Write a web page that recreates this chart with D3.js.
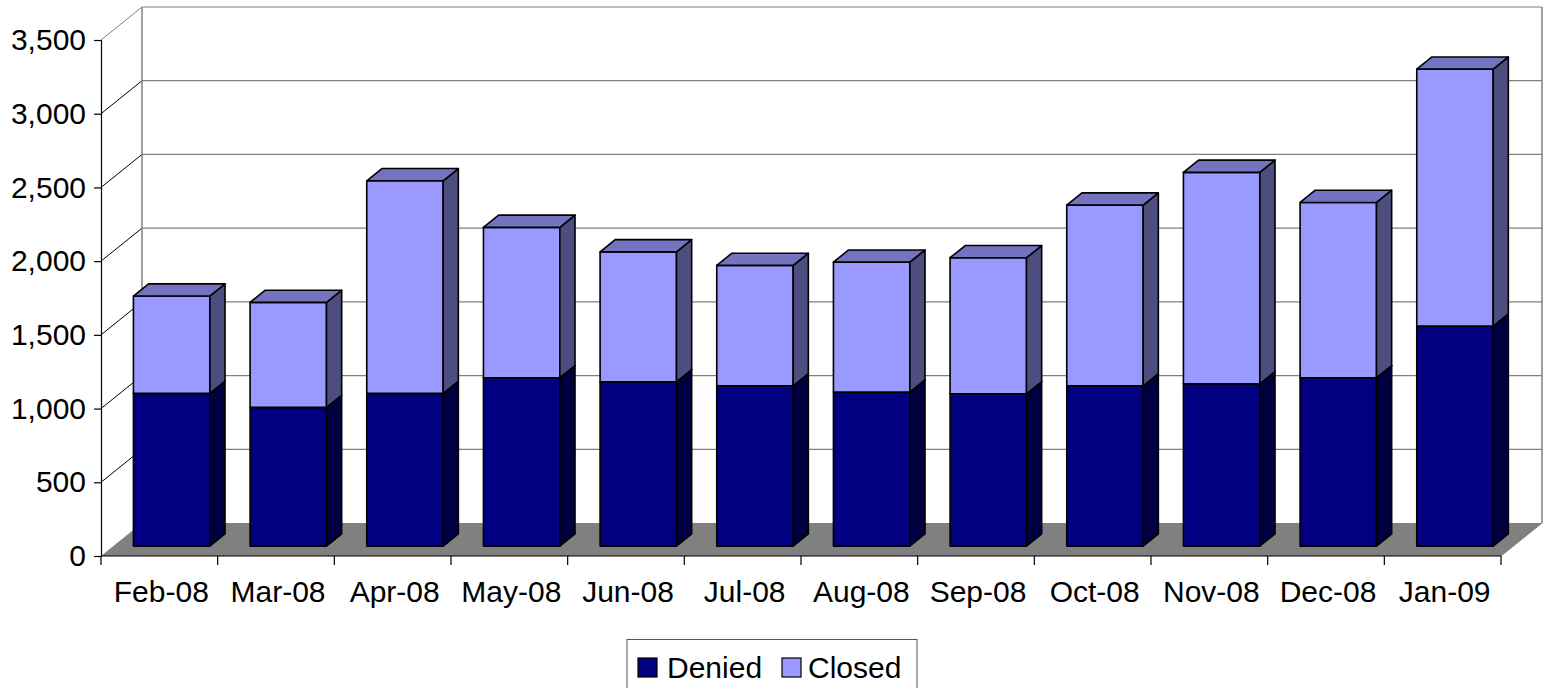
<!DOCTYPE html>
<html>
<head>
<meta charset="utf-8">
<script src="https://cdn.jsdelivr.net/npm/d3@7"></script>
<style>
  html, body { margin: 0; padding: 0; background: #fff; }
  svg { display: block; }
  text { font-family: "Liberation Sans", Arial, sans-serif; fill: #000; }
</style>
</head>
<body>
<svg id="chart" width="1547" height="688"></svg>
<script>
const categories = ["Feb-08","Mar-08","Apr-08","May-08","Jun-08","Jul-08","Aug-08","Sep-08","Oct-08","Nov-08","Dec-08","Jan-09"];
const denied = [1036, 941, 1036, 1142, 1114, 1087, 1045, 1033, 1087, 1101, 1142, 1492];
const closed = [660, 712, 1442, 1020, 882, 817, 881, 923, 1226, 1434, 1189, 1743];
const yTicks = [0, 500, 1000, 1500, 2000, 2500, 3000, 3500];
const seriesNames = ["Denied", "Closed"];

const svg = d3.select("#chart");
const W = 1547, H = 688;

// front plane geometry
const x0 = 101, x1 = 1501, yBottom = 556, yTop = 40;
const DX = 41, DY = -33; // full depth offset
const d0 = 0.30, d1 = 0.67; // bar depth span

const x = d3.scaleBand().domain(categories).range([x0, x1]).paddingInner(0).paddingOuter(0);
const y = d3.scaleLinear().domain([0, 3500]).range([yBottom, yTop]);

const P = (xf, v, d) => [xf + DX * d, y(v) + DY * d];
const poly = pts => "M" + pts.map(p => p.join(",")).join("L") + "Z";

const colors = {
  Denied: { front: "#000080", side: "#000040", top: "#000060" },
  Closed: { front: "#9999FF", side: "#4D4D80", top: "#7373BF" }
};

// floor
svg.append("path")
  .attr("d", poly([P(x0, 0, 0), P(x1, 0, 0), P(x1, 0, 1), P(x0, 0, 1)]))
  .attr("fill", "#808080");

// back wall gridlines
const gBack = svg.append("g");
yTicks.forEach(t => {
  if (t === 0) return;
  const a = P(x0, t, 1), b = P(x1, t, 1);
  gBack.append("line").attr("x1", a[0]).attr("y1", a[1]).attr("x2", b[0]).attr("y2", b[1])
    .attr("stroke", "#808080").attr("stroke-width", 1.2);
  const c = P(x0, t, 0);
  gBack.append("line").attr("x1", c[0]).attr("y1", c[1]).attr("x2", a[0]).attr("y2", a[1])
    .attr("stroke", t === 3500 ? "#808080" : "#000").attr("stroke-width", 1);
});
// back wall verticals
[[x0], [x1]].forEach(([xx]) => {
  const a = P(xx, 0, 1), b = P(xx, 3500, 1);
  gBack.append("line").attr("x1", a[0]).attr("y1", a[1]).attr("x2", b[0]).attr("y2", b[1])
    .attr("stroke", "#808080").attr("stroke-width", 1.5);
});
// right floor diagonal edge
{
  const a = P(x1, 0, 0), b = P(x1, 0, 1);
  gBack.append("line").attr("x1", a[0]).attr("y1", a[1]).attr("x2", b[0]).attr("y2", b[1])
    .attr("stroke", "#808080").attr("stroke-width", 1);
}

// bars
const bw = x.bandwidth() * 0.655;
const off = (x.bandwidth() - bw) / 2;
const gBars = svg.append("g").attr("stroke", "#000").attr("stroke-width", 1.6).attr("stroke-linejoin", "round");
categories.forEach((c, i) => {
  const xl = x(c) + off, xr = xl + bw;
  const segs = [
    { name: "Denied", v0: 0, v1: denied[i] },
    { name: "Closed", v0: denied[i], v1: denied[i] + closed[i] }
  ];
  segs.forEach(s => {
    const col = colors[s.name];
    gBars.append("path").attr("fill", col.front)
      .attr("d", poly([P(xl, s.v0, d0), P(xr, s.v0, d0), P(xr, s.v1, d0), P(xl, s.v1, d0)]));
    gBars.append("path").attr("fill", col.side)
      .attr("d", poly([P(xr, s.v0, d0), P(xr, s.v0, d1), P(xr, s.v1, d1), P(xr, s.v1, d0)]));
    gBars.append("path").attr("fill", col.top)
      .attr("d", poly([P(xl, s.v1, d0), P(xr, s.v1, d0), P(xr, s.v1, d1), P(xl, s.v1, d1)]));
  });
});

// y axis (front left)
const yAxis = d3.axisLeft(y).tickValues(yTicks).tickFormat(d3.format(",")).tickSize(7).tickPadding(8);
const gy = svg.append("g").attr("transform", `translate(${x0},0)`).call(yAxis);
gy.select(".domain").attr("stroke", "#000").attr("stroke-width", 1.2);
gy.selectAll(".tick line").attr("stroke", "#000").attr("stroke-width", 1.2);
gy.selectAll(".tick text").attr("font-size", 30).attr("font-family", "Liberation Sans, Arial, sans-serif").attr("fill", "#000");

// x axis (front bottom)
const gx = svg.append("g");
gx.append("line").attr("x1", x0).attr("x2", x1).attr("y1", yBottom).attr("y2", yBottom)
  .attr("stroke", "#000").attr("stroke-width", 1.2);
const bounds = categories.map(c => x(c)).concat([x(categories[categories.length - 1]) + x.bandwidth()]);
bounds.forEach(b => {
  gx.append("line").attr("x1", b).attr("x2", b).attr("y1", yBottom).attr("y2", yBottom + 9)
    .attr("stroke", "#000").attr("stroke-width", 1.2);
});
categories.forEach(c => {
  gx.append("text").attr("x", x(c) + x.bandwidth() / 2 + 2).attr("y", 602)
    .attr("text-anchor", "middle").attr("font-size", 30).text(c);
});

// legend
const lg = svg.append("g");
lg.append("rect").attr("x", 627).attr("y", 639.5).attr("width", 290).attr("height", 60)
  .attr("fill", "#fff").attr("stroke", "#555").attr("stroke-width", 1);
const legendItems = [
  { name: seriesNames[0], sx: 638, tx: 667 },
  { name: seriesNames[1], sx: 782, tx: 808 }
];
legendItems.forEach(it => {
  lg.append("rect").attr("x", it.sx).attr("y", 658).attr("width", 19).attr("height", 19)
    .attr("fill", colors[it.name].front).attr("stroke", "#000").attr("stroke-width", 1.2);
  lg.append("text").attr("x", it.tx).attr("y", 678).attr("font-size", 30).text(it.name);
});
</script>
</body>
</html>
